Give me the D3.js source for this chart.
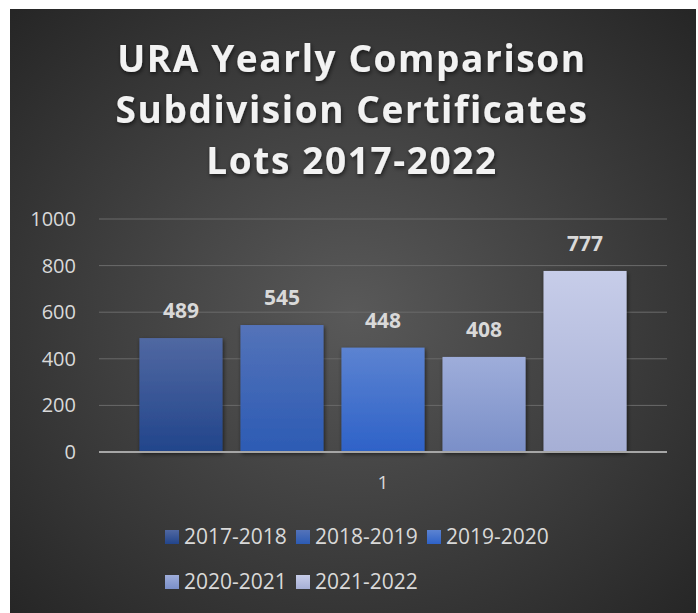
<!DOCTYPE html>
<html>
<head>
<meta charset="utf-8">
<script src="https://cdn.jsdelivr.net/npm/d3@7"></script>
<style>
  body { margin: 0; background: #fff; }
  svg { display: block; }
</style>
</head>
<body>
<svg id="chart"></svg>
<script>
const categories = ["1"];
const seriesNames = ["2017-2018", "2018-2019", "2019-2020", "2020-2021", "2021-2022"];
const seriesValues = [489, 545, 448, 408, 777];
const yTicks = [0, 200, 400, 600, 800, 1000];
const titleLines = ["URA Yearly Comparison", "Subdivision Certificates", "Lots 2017-2022"];

const width = 698, height = 613;
const margin = {top: 219, right: 31, bottom: 161, left: 99};

const svg = d3.select("#chart")
    .attr("width", width)
    .attr("height", height);

const defs = svg.append("defs");

// background gradient
const bg = defs.append("radialGradient")
    .attr("id", "bg")
    .attr("cx", "50%").attr("cy", "50%").attr("r", "70%");
bg.append("stop").attr("offset", "0%").attr("stop-color", "#595959");
bg.append("stop").attr("offset", "100%").attr("stop-color", "#262626");

// bar gradients (top, bottom)
const barColors = [
    ["#5068a2", "#22458b"],
    ["#5473b9", "#2c5bb4"],
    ["#5c83d1", "#2e62c8"],
    ["#9eadda", "#7a8fc8"],
    ["#c7cde9", "#a6afd5"]
];
barColors.forEach((c, i) => {
    const g = defs.append("linearGradient")
        .attr("id", "bar" + i)
        .attr("x1", 0).attr("y1", 0).attr("x2", 0).attr("y2", 1);
    g.append("stop").attr("offset", "0%").attr("stop-color", c[0]);
    g.append("stop").attr("offset", "100%").attr("stop-color", c[1]);
});

const shadow = defs.append("filter").attr("id", "shadow")
    .attr("x", "-20%").attr("y", "-20%").attr("width", "140%").attr("height", "140%");
shadow.append("feDropShadow")
    .attr("dx", 1).attr("dy", 2).attr("stdDeviation", 2)
    .attr("flood-color", "#000").attr("flood-opacity", 0.6);

svg.append("rect")
    .attr("x", 10).attr("y", 9)
    .attr("width", 686).attr("height", 610)
    .attr("fill", "url(#bg)");

// title
svg.append("g")
    .selectAll("text")
    .data(titleLines)
    .join("text")
    .attr("x", 352)
    .attr("y", (d, i) => 72 + i * 51)
    .attr("text-anchor", "middle")
    .attr("fill", "#f2f2f2")
    .attr("filter", "url(#shadow)")
    .style("font-family", "'Open Sans', sans-serif")
    .style("font-weight", "bold")
    .style("font-size", "37px")
    .style("letter-spacing", "1.6px")
    .text(d => d);

const innerW = width - margin.left - margin.right;
const innerH = height - margin.top - margin.bottom;

const x0 = d3.scaleBand()
    .domain(categories)
    .range([margin.left, margin.left + innerW])
    .paddingOuter(0.083);

const x1 = d3.scaleBand()
    .domain(seriesNames)
    .range([0, x0.bandwidth()])
    .paddingInner(0.178);

const y = d3.scaleLinear()
    .domain([0, 1000])
    .range([margin.top + innerH, margin.top]);

// gridlines
svg.append("g")
    .selectAll("line")
    .data(yTicks.slice(1))
    .join("line")
    .attr("x1", margin.left)
    .attr("x2", margin.left + innerW)
    .attr("y1", d => y(d))
    .attr("y2", d => y(d))
    .attr("stroke", "#6a6a6a")
    .attr("stroke-width", 1);

// y axis labels
const yAxis = svg.append("g")
    .attr("transform", `translate(${margin.left - 23},0)`)
    .call(d3.axisLeft(y).tickValues(yTicks).tickFormat(d3.format("d")).tickSize(0).tickPadding(0));
yAxis.select(".domain").remove();
yAxis.selectAll("text")
    .attr("fill", "#d9d9d9")
    .style("font-family", "'Open Sans', sans-serif")
    .style("font-size", "20px");

// bars
const grp = svg.append("g")
    .selectAll("g")
    .data(categories)
    .join("g")
    .attr("transform", d => `translate(${x0(d)},0)`);

grp.selectAll("rect")
    .data(seriesNames.map((s, i) => ({name: s, value: seriesValues[i], i})))
    .join("rect")
    .attr("x", d => x1(d.name))
    .attr("y", d => y(d.value))
    .attr("width", x1.bandwidth())
    .attr("height", d => y(0) - y(d.value))
    .attr("fill", d => `url(#bar${d.i})`)
    .attr("filter", "url(#shadow)");

grp.selectAll("text.val")
    .data(seriesNames.map((s, i) => ({name: s, value: seriesValues[i]})))
    .join("text")
    .attr("class", "val")
    .attr("x", d => x1(d.name) + x1.bandwidth() / 2)
    .attr("y", d => y(d.value) - 20)
    .attr("text-anchor", "middle")
    .attr("fill", "#d9d9d9")
    .style("font-family", "'Open Sans', sans-serif")
    .style("font-weight", "bold")
    .style("font-size", "21px")
    .text(d => d.value);

// x axis line
svg.append("line")
    .attr("x1", margin.left)
    .attr("x2", margin.left + innerW)
    .attr("y1", y(0))
    .attr("y2", y(0))
    .attr("stroke", "#a6a6a6")
    .attr("stroke-width", 2);

// x axis label
const xAxis = svg.append("g")
    .attr("transform", `translate(0,${y(0) + 23})`)
    .call(d3.axisBottom(x0).tickSize(0).tickPadding(0));
xAxis.select(".domain").remove();
xAxis.selectAll("text")
    .attr("fill", "#d9d9d9")
    .style("font-family", "'Open Sans', sans-serif")
    .style("font-size", "19px");

// legend
const legendPos = [
    [165, 537], [296, 537], [427, 537],
    [165, 582], [296, 582]
];
const legend = svg.append("g")
    .selectAll("g")
    .data(seriesNames)
    .join("g")
    .attr("transform", (d, i) => `translate(${legendPos[i][0]},${legendPos[i][1]})`);

legend.append("rect")
    .attr("x", 0).attr("y", -7)
    .attr("width", 14).attr("height", 14)
    .attr("fill", (d, i) => `url(#bar${i})`);

legend.append("text")
    .attr("x", 19)
    .attr("y", 0)
    .attr("dy", "0.35em")
    .attr("fill", "#d9d9d9")
    .style("font-family", "'Open Sans', sans-serif")
    .style("font-size", "21px")
    .text(d => d);
</script>
</body>
</html>
